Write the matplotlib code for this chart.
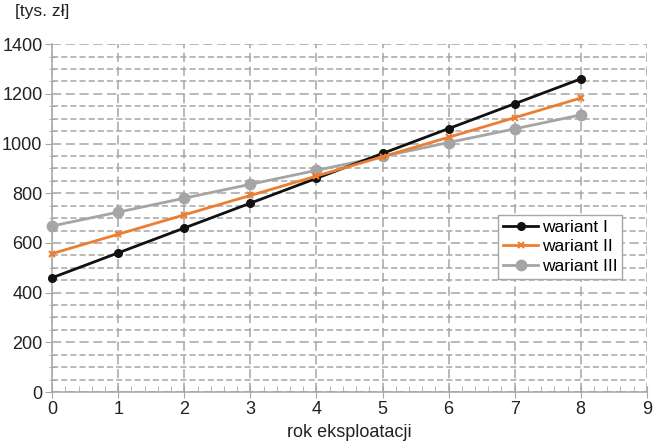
import matplotlib
matplotlib.use("Agg")
import matplotlib.pyplot as plt
from matplotlib.ticker import MultipleLocator

plt.rcParams['font.family'] = ['Liberation Sans', 'DejaVu Sans']

years = [0, 1, 2, 3, 4, 5, 6, 7, 8]
wariant_I = [460, 560, 660, 760, 860, 960, 1060, 1160, 1260]
wariant_II = [557, 635, 713, 791, 869, 947, 1025, 1104, 1183]
wariant_III = [668, 724, 780, 836, 892, 948, 1004, 1059, 1115]

fig = plt.figure(figsize=(6.6, 4.41), dpi=100)
ax = fig.add_axes([0.079, 0.111, 0.901, 0.789])

grid_c = '#a6a6a6'
ax.set_xlim(0, 9)
ax.set_ylim(0, 1400)
ax.xaxis.set_major_locator(MultipleLocator(1))
ax.xaxis.set_minor_locator(MultipleLocator(0.2))
ax.yaxis.set_major_locator(MultipleLocator(200))
ax.yaxis.set_minor_locator(MultipleLocator(50))

ax.grid(which='major', axis='both', color=grid_c, linestyle=(0, (6, 3)), linewidth=1.1)
ax.grid(which='minor', axis='y', color=grid_c, linestyle=(0, (4, 2)), linewidth=1.1)

for s in ['top', 'right']:
    ax.spines[s].set_visible(False)
for s in ['left', 'bottom']:
    ax.spines[s].set_color(grid_c)
    ax.spines[s].set_linewidth(1.1)

ax.tick_params(axis='x', which='major', direction='inout', length=8, color=grid_c,
               labelsize=13, pad=2.5, labelcolor='#222222')
ax.tick_params(axis='x', which='minor', direction='in', length=4, color=grid_c)
ax.tick_params(axis='y', which='major', direction='out', length=5, color=grid_c,
               labelsize=13, pad=2, labelcolor='#222222')
ax.tick_params(axis='y', which='minor', direction='inout', length=5, color=grid_c)

ax.plot(years, wariant_I, color='#111111', linewidth=2, marker='o', markersize=5.5,
        label='wariant I', clip_on=False, zorder=5)
ax.plot(years, wariant_II, color='#ed7d31', linewidth=2, marker='x', markersize=5,
        markeredgewidth=1.5, label='wariant II', clip_on=False, zorder=5)
ax.plot(years, wariant_III, color='#a5a5a5', linewidth=2, marker='o', markersize=7.5,
        label='wariant III', clip_on=False, zorder=4)

ax.set_xlabel('rok eksploatacji', fontsize=13, color='#222222', labelpad=4)
fig.text(0.022, 0.99, '[tys. zł]', fontsize=12.5, color='#222222', va='top', ha='left')

leg = ax.legend(loc='upper left', bbox_to_anchor=(0.75, 0.51), fontsize=12.5,
                frameon=True, fancybox=False, edgecolor='#a6a6a6', framealpha=1,
                handlelength=2.0, handletextpad=0.2, borderpad=0.3,
                labelspacing=0.25, borderaxespad=0)
leg.get_frame().set_linewidth(1.0)
leg.set_zorder(10)

fig.savefig('out.png', dpi=100)
